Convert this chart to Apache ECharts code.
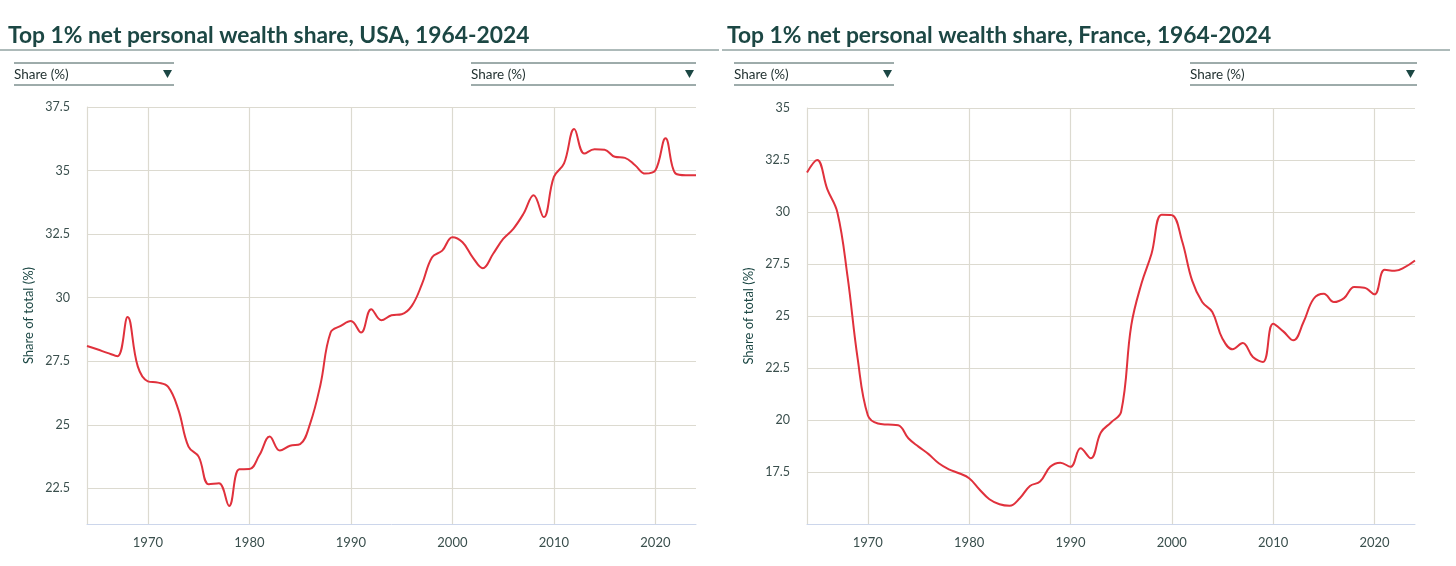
<!DOCTYPE html>
<html>
<head>
<meta charset="utf-8">
<script src="https://cdn.jsdelivr.net/npm/echarts@6/dist/echarts.min.js"></script>
<style>
  html, body { margin: 0; padding: 0; background: #fff; }
  #main { width: 1456px; height: 566px; }
</style>
</head>
<body>
<div id="main"></div>
<script>
// years shared by both charts
const years = [];
for (let y = 1964; y <= 2024; y++) years.push(y);

const usaShare = [
  28.1, 27.97, 27.83, 27.7, 29.24, 27.3, 26.71, 26.66, 26.49, 25.6,
  24.14, 23.75, 22.66, 22.7, 21.81, 23.25, 23.26, 23.82, 24.54, 23.99,
  24.18, 24.24, 25.07, 26.58, 28.63, 28.89, 29.08, 28.63, 29.55, 29.11,
  29.31, 29.35, 29.68, 30.53, 31.59, 31.85, 32.38, 32.18, 31.59, 31.16,
  31.72, 32.31, 32.71, 33.3, 34.03, 33.17, 34.75, 35.28, 36.63, 35.67,
  35.84, 35.82, 35.54, 35.5, 35.21, 34.88, 35.01, 36.27, 34.88, 34.82,
  34.82
];

const franceShare = [
  31.9, 32.5, 31.1, 29.98, 26.9, 22.95, 20.23, 19.83, 19.78, 19.75,
  19.12, 18.72, 18.36, 17.92, 17.63, 17.44, 17.2, 16.67, 16.19, 15.95,
  15.88, 16.24, 16.83, 17.04, 17.75, 17.95, 17.75, 18.64, 18.16, 19.4,
  19.88, 20.4, 24.55, 26.55, 27.99, 29.87, 29.85, 28.63, 26.71, 25.67,
  25.19, 23.91, 23.4, 23.7, 23.03, 22.79, 24.63, 24.26, 23.83, 24.71,
  25.83, 26.07, 25.67, 25.86, 26.39, 26.36, 26.04, 27.22, 27.17, 27.35,
  27.67
];

const xTicks = [1970, 1980, 1990, 2000, 2010, 2020];
const usaTicks = [22.5, 25, 27.5, 30, 32.5, 35, 37.5];
const franceTicks = [17.5, 20, 22.5, 25, 27.5, 30, 32.5, 35];

const titles = [
  'Top 1% net personal wealth share, USA, 1964-2024',
  'Top 1% net personal wealth share, France, 1964-2024'
];

const dark = '#1c4744';
const gridColor = '#dcdad0';
const labelColor = '#3a4f4d';
const lineRed = '#e0313c';

function pair(vals) {
  return years.map((y, i) => [y, vals[i]]);
}

function xAxisFor(idx) {
  return {
    type: 'value', gridIndex: idx, min: 1964, max: 2024,
    axisLine: { show: true, lineStyle: { color: '#ccd6eb', width: 1 } },
    axisTick: { show: false, customValues: xTicks },
    axisLabel: {
      customValues: xTicks, color: labelColor, fontFamily: 'Lato', fontSize: 13, margin: 12,
      formatter: v => String(v)
    },
    splitLine: { show: true, lineStyle: { color: gridColor, width: 1.2 } }
  };
}

function yAxisFor(idx, min, max, ticks) {
  return {
    type: 'value', gridIndex: idx, min: min, max: max,
    name: 'Share of total (%)', nameLocation: 'middle', nameGap: 52,
    nameTextStyle: { color: dark, fontFamily: 'Lato', fontSize: 13 },
    axisLine: { show: true, lineStyle: { color: gridColor, width: 1.2 } },
    axisTick: { show: false, customValues: ticks },
    axisLabel: { customValues: ticks, color: labelColor, fontFamily: 'Lato', fontSize: 12.5, margin: 17 },
    splitLine: { show: true, lineStyle: { color: gridColor, width: 1.2 } }
  };
}

function dropdown(x1, x2) {
  return [
    { type: 'line', shape: { x1: x1, y1: 63, x2: x2, y2: 63 }, style: { stroke: '#3d5856', lineWidth: 1 } },
    { type: 'line', shape: { x1: x1, y1: 85, x2: x2, y2: 85 }, style: { stroke: '#3d5856', lineWidth: 1 } },
    { type: 'text', x: x1, y: 75, style: { text: 'Share (%)', fill: '#1e2e2d', font: '13.5px Lato', verticalAlign: 'middle' } },
    { type: 'polygon', shape: { points: [[x2 - 11, 70], [x2 - 2, 70], [x2 - 6.5, 78]] }, style: { fill: dark } }
  ];
}

const chart = echarts.init(document.getElementById('main'));
chart.setOption({
  backgroundColor: '#fff',
  animation: false,
  title: [
    { text: titles[0], left: 3, top: 19, textStyle: { color: dark, fontFamily: 'Lato', fontWeight: 'bold', fontSize: 22.8 } },
    { text: titles[1], left: 722, top: 19, textStyle: { color: dark, fontFamily: 'Lato', fontWeight: 'bold', fontSize: 22.8 } }
  ],
  grid: [
    { left: 87, top: 107, width: 609, height: 417 },
    { left: 807, top: 108, width: 608, height: 416 }
  ],
  xAxis: [xAxisFor(0), xAxisFor(1)],
  yAxis: [yAxisFor(0, 21.1, 37.5, usaTicks), yAxisFor(1, 15, 35, franceTicks)],
  series: [
    {
      type: 'line', xAxisIndex: 0, yAxisIndex: 0, data: pair(usaShare),
      smooth: 0.4, showSymbol: false, lineStyle: { color: lineRed, width: 2 }
    },
    {
      type: 'line', xAxisIndex: 1, yAxisIndex: 1, data: pair(franceShare),
      smooth: 0.4, showSymbol: false, lineStyle: { color: lineRed, width: 2 }
    }
  ],
  graphic: [
    { type: 'line', shape: { x1: 0, y1: 50, x2: 719, y2: 50 }, style: { stroke: '#5d7775', lineWidth: 1 } },
    { type: 'line', shape: { x1: 722, y1: 50, x2: 1450, y2: 50 }, style: { stroke: '#5d7775', lineWidth: 1 } }
  ].concat(dropdown(14, 174), dropdown(471, 696), dropdown(734, 894), dropdown(1190, 1417))
});
</script>
</body>
</html>
